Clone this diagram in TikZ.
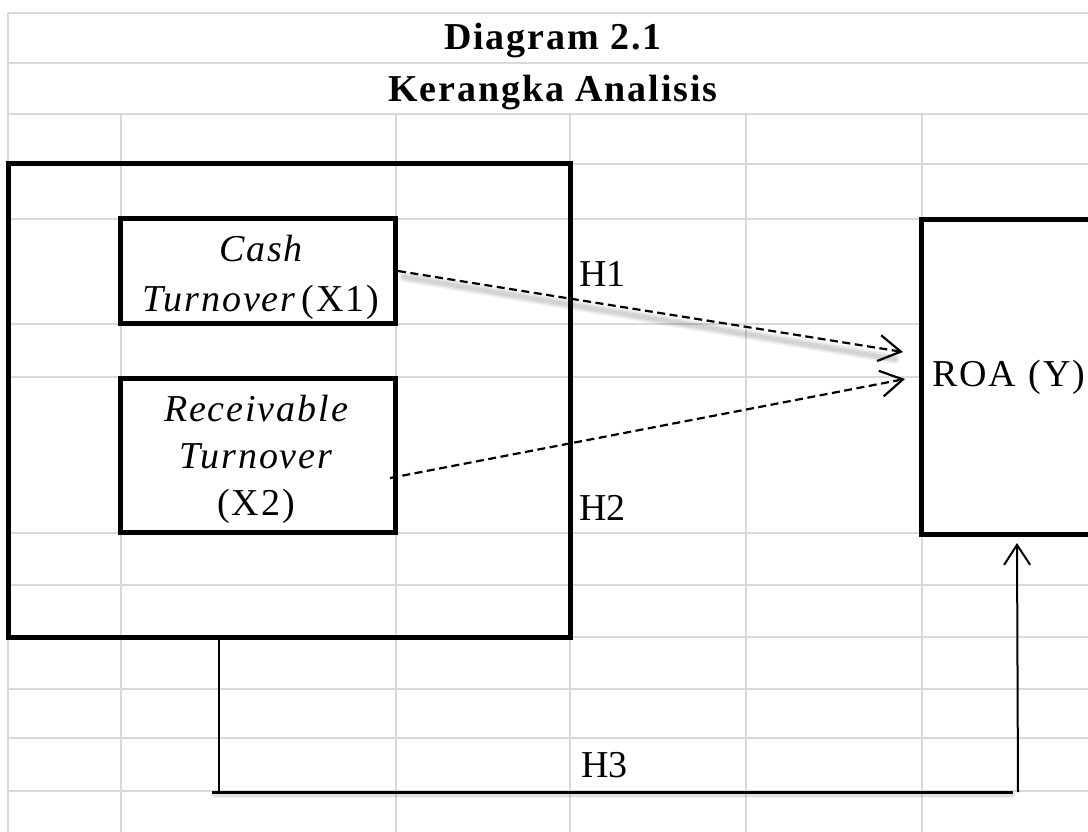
\documentclass[tikz,border=0pt]{standalone}
\usepackage{fontspec}
\setmainfont{Liberation Serif}
\newfontfamily\spacedfont[LetterSpace=5]{Liberation Serif}
\usetikzlibrary{arrows.meta,calc}
\definecolor{gridgray}{RGB}{217,217,217}
\tikzset{
  gridline/.style={draw=gridgray, line width=2.6pt},
  outerbox/.style={draw=black, line width=5pt, inner sep=0pt},
  varbox/.style={draw=black, line width=5pt, fill=white, inner sep=0pt},
  boxtext/.style={font=\fontsize{38}{#1}\selectfont\spacedfont, align=center, inner sep=0pt},
  titletext/.style={font=\fontsize{38}{44}\selectfont\spacedfont\bfseries, inner sep=0pt},
  lbl/.style={font=\fontsize{38}{44}\selectfont, inner sep=0pt},
  hyparrow/.style={draw=black, line width=2.2pt, dash pattern=on 8pt off 4.5pt,
    -{Straight Barb[length=22pt,width=26pt]}},
  shadowline/.style={draw=black, opacity=0.06, line width=#1, line cap=round},
  linkline/.style={draw=black, line width=2pt},
  basethick/.style={draw=black, line width=3pt},
}
\begin{document}
\begin{tikzpicture}[x=1pt,y=-1pt]
\useasboundingbox (0,0) rectangle (1088,832);
\fill[white] (0,0) rectangle (1088,832);
% spreadsheet grid
\foreach \yy in {13,63,114,164,219,324,377,533,585,637,689,738,791}
  \draw[gridline] (8,\yy) -- (1100,\yy);
\draw[gridline] (8,13) -- (8,840);
\foreach \xx in {121,396,570,746,922}
  \draw[gridline] (\xx,114) -- (\xx,840);
% titles
\node[titletext, anchor=base] (title1) at (553,50) {Diagram 2.1};
\node[titletext, anchor=base] (title2) at (553,102) {Kerangka Analisis};
% boxes
\node[outerbox, minimum width=562pt, minimum height=473pt] (outer) at (289,400.5) {};
\node[varbox, minimum width=275pt, minimum height=104pt] (cash) at (258,271) {};
\node[boxtext=50] (cashtext) at (261,277)
  {\itshape Cash\\\itshape Turnover\upshape\,(X1)};
\node[varbox, minimum width=275pt, minimum height=154pt] (rec) at (258,455) {};
\node[boxtext=47] (rectext) at (256,459)
  {\itshape Receivable\\\itshape Turnover\\\upshape (X2)};
\node[varbox, font=\fontsize{38}{44}\selectfont\spacedfont, minimum width=300pt,
  minimum height=315pt, inner xsep=11pt, text width=278pt, align=left] (roa) at (1071,377) {ROA (Y)};
% hypothesis labels
\node[lbl, anchor=base west] (h1) at (579,286) {H1};
\node[lbl, anchor=base west] (h2) at (579,520) {H2};
\node[lbl, anchor=base west] (h3) at (581,777) {H3};
% dashed connectors
\coordinate (s2) at (390,478);
\coordinate (e1) at (903,352);
\coordinate (e2) at (905,379);
\foreach \w in {4pt,7pt,10pt}
  \draw[shadowline=\w] ($(cash.east)+(6,6)$) -- ($(e1)+(-8,7)$);
\draw[hyparrow] (cash.east) -- (e1);
\draw[hyparrow] (s2) -- (e2);
% H3 connector
\coordinate (h3a) at (219,637);
\coordinate (h3b) at (219,792);
\coordinate (h3c) at (212,792);
\coordinate (h3d) at (1013,792);
\coordinate (h3e) at (1018,792);
\coordinate (h3tip) at (1017,543);
\foreach \w in {3pt,6pt}
  \draw[shadowline=\w] ($(h3c)+(2,3)$) -- ($(h3d)+(0,3)$);
\draw[linkline] (h3a) -- (h3b);
\draw[basethick] (h3c) -- (h3d);
\draw[linkline, -{Straight Barb[length=20pt,width=26pt]}] (h3e) -- (h3tip);
\end{tikzpicture}
\end{document}
